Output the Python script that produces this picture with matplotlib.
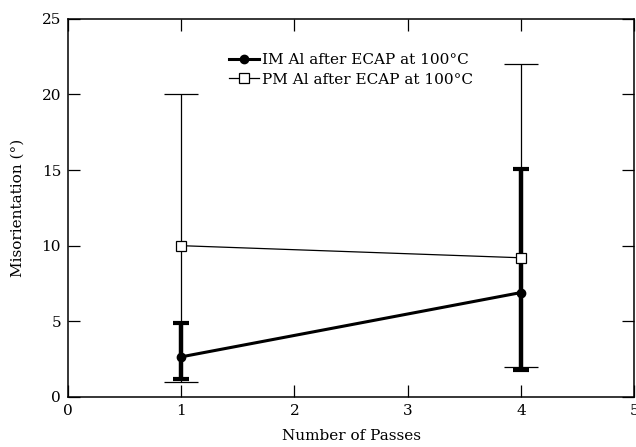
import numpy as np
import matplotlib.pyplot as plt

# Misorientation vs number of ECAP passes
passes = [1, 4]

im_mean = [2.65, 6.9]
im_low = [1.2, 1.8]
im_high = [4.9, 15.1]

pm_mean = [10.0, 9.2]
pm_low = [1.0, 2.0]
pm_high = [20.0, 22.0]

im_label = 'IM Al after ECAP at 100°C'
pm_label = 'PM Al after ECAP at 100°C'

plt.rcParams['font.family'] = ['DejaVu Serif']
plt.rcParams['font.size'] = 11

fig = plt.figure(figsize=(6.36, 4.47), dpi=100)
ax = fig.add_axes([0.107, 0.112, 0.890, 0.846])

im_err = [np.subtract(im_mean, im_low), np.subtract(im_high, im_mean)]
pm_err = [np.subtract(pm_mean, pm_low), np.subtract(pm_high, pm_mean)]

# IM Al: thick error bars and line
ax.errorbar(passes, im_mean, yerr=im_err, fmt='none', ecolor='black',
            elinewidth=3.2, capsize=6, capthick=3, zorder=2)
im_line, = ax.plot(passes, im_mean, color='black', linewidth=2.2,
                   marker='o', markersize=6, label=im_label, zorder=3)

# PM Al: thin error bars and open squares
ax.errorbar(passes, pm_mean, yerr=pm_err, fmt='none', ecolor='black',
            elinewidth=0.9, capsize=12, capthick=0.9, zorder=2.5)
pm_line, = ax.plot(passes, pm_mean, color='black', linewidth=0.9,
                   marker='s', markersize=6.5, markerfacecolor='white',
                   markeredgecolor='black', markeredgewidth=0.9,
                   label=pm_label, zorder=4)

ax.set_xlim(0, 5)
ax.set_ylim(0, 25)
ax.set_xticks([0, 1, 2, 3, 4, 5])
ax.set_yticks([0, 5, 10, 15, 20, 25])
ax.tick_params(direction='in', length=8.5, width=0.9, top=True, right=True,
               labelsize=11, pad=5)
for sp in ax.spines.values():
    sp.set_linewidth(1.1)

ax.set_xlabel('Number of Passes', fontsize=11, labelpad=8)
ax.set_ylabel('Misorientation (°)', fontsize=11, labelpad=12)

ax.legend(handles=[im_line, pm_line], loc='upper center',
          bbox_to_anchor=(0.5, 0.945), frameon=False, fontsize=11,
          handlelength=2.0, handletextpad=0.2, labelspacing=0.35)

plt.savefig('out.png', dpi=100)
